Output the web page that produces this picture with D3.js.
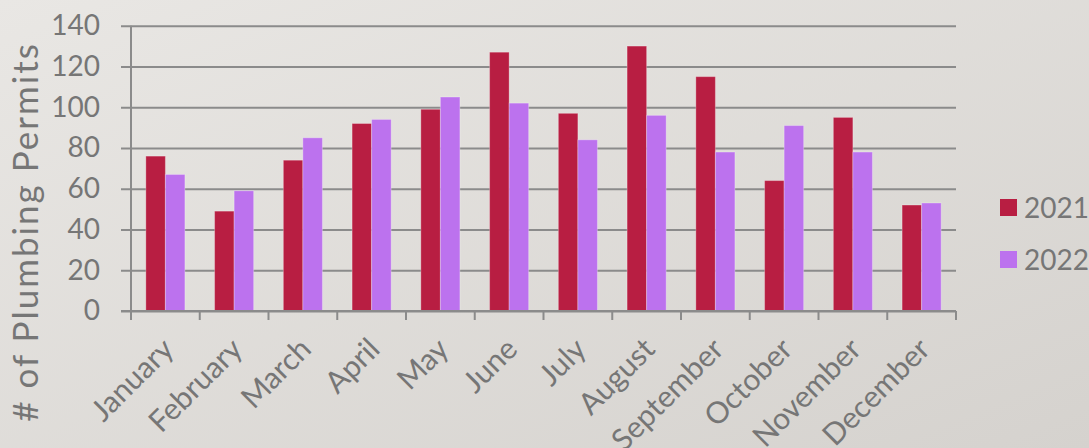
<!DOCTYPE html>
<html>
<head>
<meta charset="utf-8">
<script src="https://cdn.jsdelivr.net/npm/d3@7"></script>
<style>
  html, body { margin: 0; padding: 0; }
  body { width: 1089px; height: 448px; overflow: hidden; }
  svg { display: block; font-family: "Lato", "Open Sans", sans-serif; }
</style>
</head>
<body>
<svg id="chart" width="1089" height="448"></svg>
<script>
// Monthly plumbing permits issued, two years side by side
const months = ["January", "February", "March", "April", "May", "June",
                "July", "August", "September", "October", "November", "December"];
const permits2021 = [76, 49, 74, 92, 99, 127, 97, 130, 115, 64, 95, 52];
const permits2022 = [67, 59, 85, 94, 105, 102, 84, 96, 78, 91, 78, 53];
const seriesNames = ["2021", "2022"];
const yTickValues = [0, 20, 40, 60, 80, 100, 120, 140];
const yTitle = "# of Plumbing Permits";

const seriesValues = [permits2021, permits2022];
const colors = ["#B81E42", "#BC72EE"];
const textColor = "#767676";
const lineColor = "#8b8b8b";

const svg = d3.select("#chart");

// Soft diagonal background
const defs = svg.append("defs");
const grad = defs.append("linearGradient")
  .attr("id", "bg").attr("x1", "0%").attr("y1", "0%").attr("x2", "100%").attr("y2", "100%");
grad.append("stop").attr("offset", "0%").attr("stop-color", "#E9E7E4");
grad.append("stop").attr("offset", "100%").attr("stop-color", "#D5D2CE");
svg.append("rect").attr("width", 1089).attr("height", 448).attr("fill", "url(#bg)");

const plot = { left: 131, right: 956, top: 25.7, bottom: 311 };

const x = d3.scaleBand().domain(months).range([plot.left, plot.right]).padding(0);
const xs = d3.scaleBand().domain(seriesNames).range([0, x.bandwidth()])
  .paddingInner(0).paddingOuter(0.76);
const y = d3.scaleLinear().domain([0, 140]).range([plot.bottom, plot.top]);

// Horizontal gridlines with labels (lines extend slightly left of the axis as ticks)
const yAxis = d3.axisLeft(y)
  .tickValues(yTickValues)
  .tickSize(plot.right - plot.left + 10)
  .tickPadding(21)
  .tickFormat(d3.format("d"));
const gy = svg.append("g")
  .attr("transform", `translate(${plot.right},0)`)
  .call(yAxis);
gy.select(".domain").remove();
gy.selectAll(".tick line").attr("stroke", lineColor).attr("stroke-width", 2);
gy.selectAll(".tick text")
  .attr("fill", textColor)
  .style("font-size", "28px")
  .style("font-family", "Lato, sans-serif");

// Vertical axis line
svg.append("line")
  .attr("x1", plot.left).attr("x2", plot.left)
  .attr("y1", y(140)).attr("y2", y(0) + 9)
  .attr("stroke", lineColor).attr("stroke-width", 2);

// Bars
const groups = svg.append("g").selectAll("g")
  .data(months)
  .join("g")
  .attr("transform", d => `translate(${x(d)},0)`);

groups.selectAll("rect")
  .data((m, i) => seriesNames.map((s, k) => ({ series: s, k, value: seriesValues[k][i] })))
  .join("rect")
  .attr("x", d => xs(d.series))
  .attr("y", d => y(d.value))
  .attr("width", xs.bandwidth())
  .attr("height", d => y(0) - y(d.value))
  .attr("fill", d => colors[d.k])
  .attr("stroke", "rgba(255,255,255,0.28)")
  .attr("stroke-width", 1);

// Category axis: boundary ticks plus rotated month names
const boundaries = months.map(m => x(m)).concat([x.range()[1]]);
const gx = svg.append("g");
gx.append("line")
  .attr("x1", plot.left - 10).attr("x2", plot.right)
  .attr("y1", y(0)).attr("y2", y(0))
  .attr("stroke", lineColor).attr("stroke-width", 2);
gx.selectAll("line.tick")
  .data(boundaries)
  .join("line")
  .attr("class", "tick")
  .attr("x1", d => d).attr("x2", d => d)
  .attr("y1", y(0)).attr("y2", y(0) + 9)
  .attr("stroke", lineColor).attr("stroke-width", 2);

gx.selectAll("text")
  .data(months)
  .join("text")
  .attr("transform", d => `translate(${x(d) + x.bandwidth() / 2 + 10},${y(0) + 40}) rotate(-45)`)
  .attr("text-anchor", "end")
  .attr("fill", textColor)
  .style("font-size", "30px")
  .text(d => d);

// Axis title
svg.append("text")
  .attr("transform", `translate(38,232) rotate(-90)`)
  .attr("text-anchor", "middle")
  .attr("fill", textColor)
  .style("font-size", "35px")
  .style("letter-spacing", "2px")
  .text(yTitle);

// Legend
const legend = svg.append("g").selectAll("g")
  .data(seriesNames)
  .join("g")
  .attr("transform", (d, i) => `translate(1000,${199 + i * 52})`);
legend.append("rect")
  .attr("width", 17).attr("height", 17)
  .attr("fill", (d, i) => colors[i]);
legend.append("text")
  .attr("x", 24).attr("y", 8.5).attr("dy", "0.36em")
  .attr("fill", textColor)
  .style("font-size", "28px")
  .text(d => d);
</script>
</body>
</html>
